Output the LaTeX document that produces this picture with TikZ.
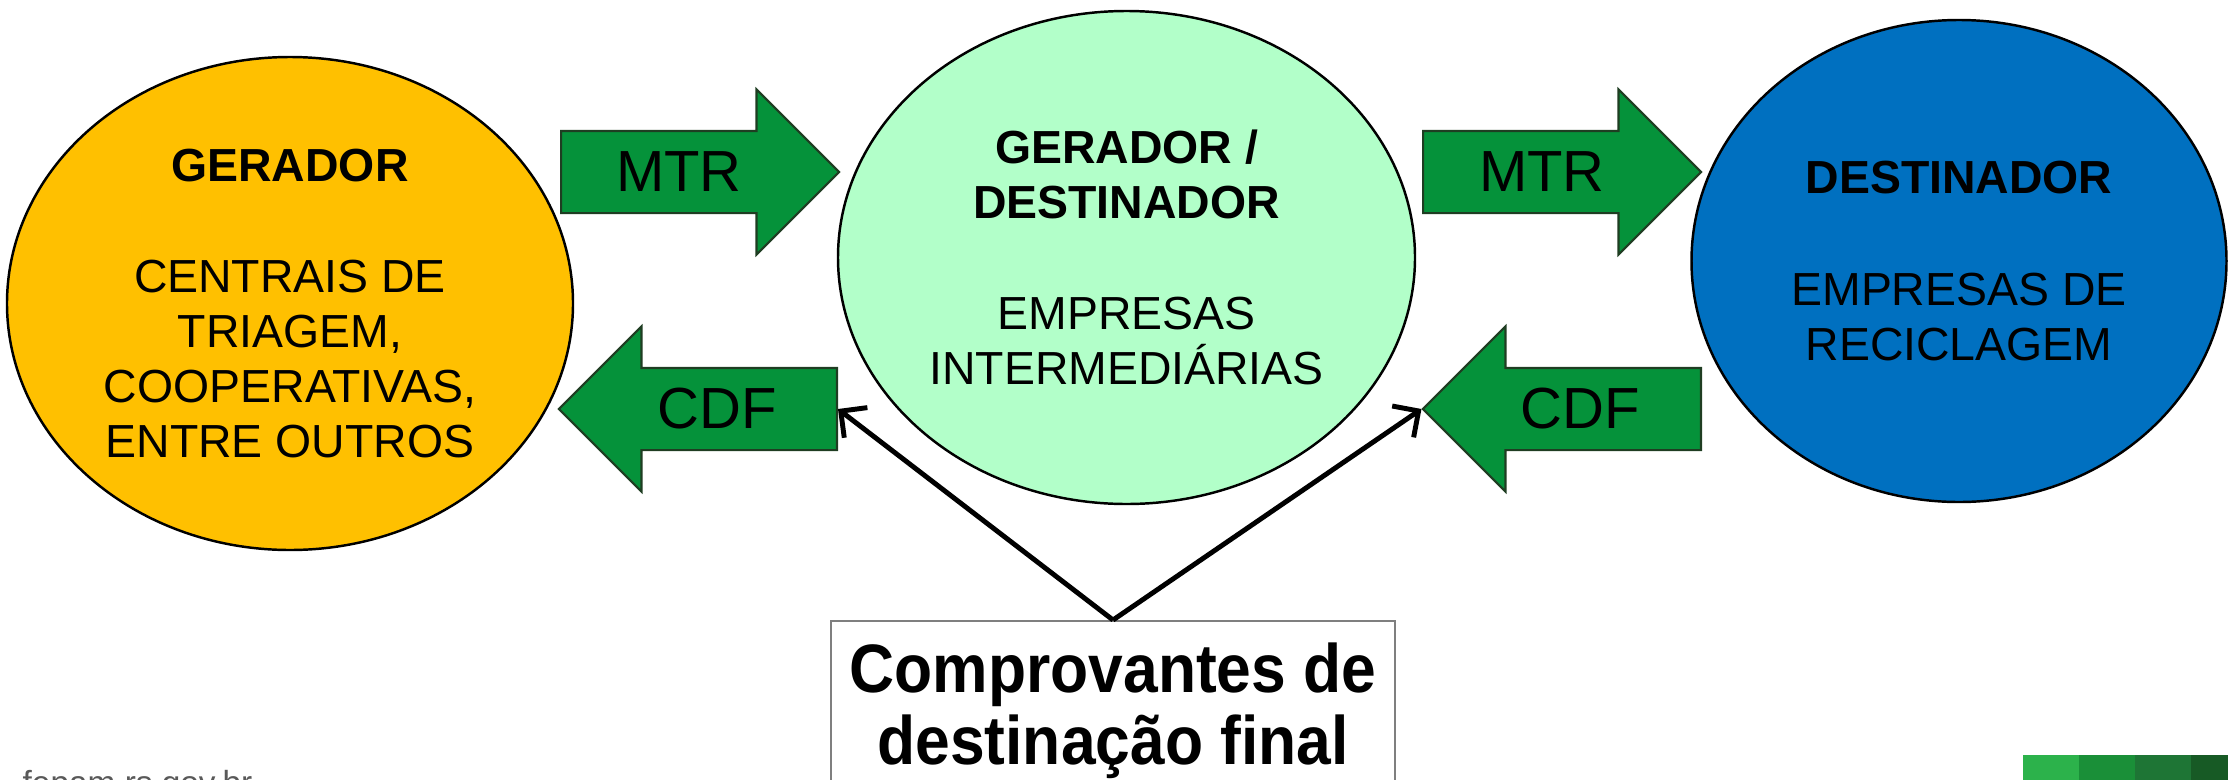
\documentclass[tikz,border=0pt]{standalone}
\usepackage{fontspec}
\setmainfont{Liberation Sans}
\newfontfamily\boxfont[FakeStretch=0.91]{Liberation Sans Bold}
\usepackage{xcolor}
\usepackage{tikz}
\usetikzlibrary{arrows.meta,positioning}
\usetikzlibrary{shapes.geometric, shapes.arrows}
\definecolor{GeradorColor}{HTML}{FFC000}
\definecolor{IntermedColor}{HTML}{B2FFC9}
\definecolor{DestinadorColor}{HTML}{0070C0}
\definecolor{FlowColor}{HTML}{05923A}
\definecolor{FlowBorder}{HTML}{1F3D22}
\definecolor{BoxBorder}{HTML}{7F7F7F}
\definecolor{FooterColor}{HTML}{595959}
\definecolor{BarOne}{HTML}{2CB24B}
\definecolor{BarTwo}{HTML}{1A8F38}
\definecolor{BarThree}{HTML}{1E7535}
\definecolor{BarFour}{HTML}{175A25}

\begin{document}
\begin{tikzpicture}[
      party/.style = {ellipse, draw=black, line width=0.7pt, inner sep=0pt, align=center,
        font=\fontsize{13.2}{15.7}\selectfont},
      flow arrow/.style = {single arrow, fill=FlowColor, draw=FlowBorder, line width=0.6pt,
        single arrow head extend=0.415cm, single arrow tip angle=90,
        minimum height=2.78cm, inner sep=0pt, text height=0.4cm, text depth=0.4cm},
      flow label/.style = {inner sep=0pt, font=\fontsize{16.5}{19}\selectfont},
      proof connection/.style = {draw=black, line width=1.4pt,
        -{Straight Barb[length=0.19cm, width=0.38cm]}},
  ]
  \useasboundingbox (0,0) rectangle (22.28,-7.79);
  \clip (0,0) rectangle (22.28,-7.79);
  % ┌─────────┐
  % │ Elipses │
  % └─────────┘
  \node[party, fill=GeradorColor, minimum width=5.66cm, minimum height=4.93cm] (gerador) at (2.90,-3.035)
    {\textbf{GERADOR}\\[16pt]CENTRAIS DE\\TRIAGEM,\\COOPERATIVAS,\\ENTRE OUTROS};
  \node[party, fill=IntermedColor, minimum width=5.77cm, minimum height=4.93cm] (intermed) at (11.265,-2.575)
    {\textbf{GERADOR /}\\\textbf{DESTINADOR}\\[16pt]EMPRESAS\\INTERMEDIÁRIAS};
  \node[party, fill=DestinadorColor, minimum width=5.35cm, minimum height=4.82cm] (destinador) at (19.59,-2.61)
    {\textbf{DESTINADOR}\\[16pt]EMPRESAS DE\\RECICLAGEM};
  % ┌───────┐
  % │ Setas │
  % └───────┘
  \node[flow arrow, anchor=tail] (mtra) at (5.60,-1.72) {};
  \node[flow arrow, anchor=tail] (mtrb) at (14.22,-1.72) {};
  \node[flow arrow, shape border rotate=180, anchor=tail] (cdfa) at (8.38,-4.09) {};
  \node[flow arrow, shape border rotate=180, anchor=tail] (cdfb) at (17.02,-4.09) {};
  \node[flow label] (mtralabel) at ([xshift=1.19cm]mtra.tail) {MTR};
  \node[flow label] (mtrblabel) at ([xshift=1.20cm]mtrb.tail) {MTR};
  \node[flow label] (cdfalabel) at ([xshift=-1.21cm]cdfa.tail) {CDF};
  \node[flow label] (cdfblabel) at ([xshift=-1.22cm]cdfb.tail) {CDF};
  % ┌──────────────┐
  % │ Comprovantes │
  % └──────────────┘
  \node[draw=BoxBorder, fill=white, line width=0.5pt, minimum width=5.64cm, inner ysep=0.22cm,
        anchor=north, align=center, font=\boxfont\fontsize{19.5}{20.4}\selectfont] (comprov) at (11.13,-6.20)
    {Comprovantes de\\destinação final};
  \draw[proof connection] (comprov.north) -- (cdfa.tail);
  \draw[proof connection] (comprov.north) -- (cdfb.tip);
  % rodape
  \node[anchor=base west, inner sep=0pt, text=FooterColor, font=\fontsize{9.5}{11}\selectfont] (site) at (0.22,-7.94) {fepam.rs.gov.br};
  \foreach \cor [count=\i] in {BarOne, BarTwo, BarThree, BarFour}
    \fill[\cor] ({20.23+0.56*(\i-1)},-7.55) rectangle ++(0.56,-0.4);
\end{tikzpicture}
\end{document}
